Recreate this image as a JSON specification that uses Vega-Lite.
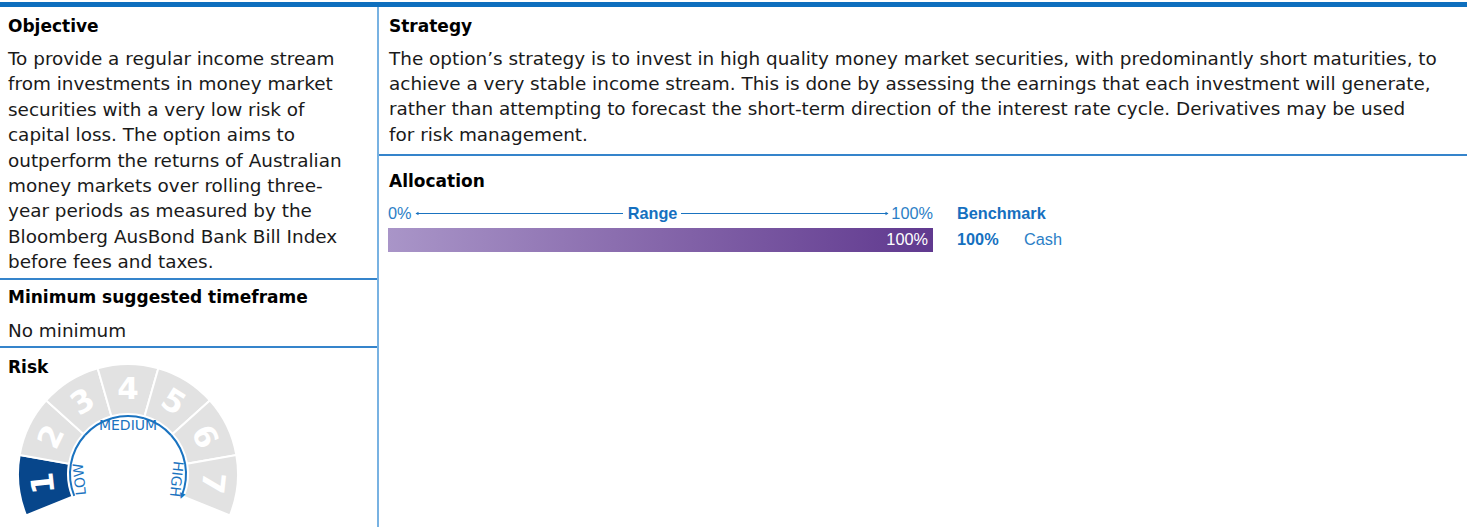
{
  "$schema": "https://vega.github.io/schema/vega-lite/v6.json",
  "padding": {"top": 2, "left": 0, "right": 0, "bottom": 0},
  "background": "#ffffff",
  "config": {"view": {"stroke": null}, "concat": {"spacing": 0}},
  "datasets": {
    "panelText": [
      {"panel": "Objective", "line": 0, "text": "Objective"},
      {"panel": "Objective", "line": 1, "text": "To provide a regular income stream"},
      {"panel": "Objective", "line": 2, "text": "from investments in money market"},
      {"panel": "Objective", "line": 3, "text": "securities with a very low risk of"},
      {"panel": "Objective", "line": 4, "text": "capital loss. The option aims to"},
      {"panel": "Objective", "line": 5, "text": "outperform the returns of Australian"},
      {"panel": "Objective", "line": 6, "text": "money markets over rolling three-"},
      {"panel": "Objective", "line": 7, "text": "year periods as measured by the"},
      {"panel": "Objective", "line": 8, "text": "Bloomberg AusBond Bank Bill Index"},
      {"panel": "Objective", "line": 9, "text": "before fees and taxes."},
      {"panel": "Timeframe", "line": 0, "text": "Minimum suggested timeframe"},
      {"panel": "Timeframe", "line": 1, "text": "No minimum"},
      {"panel": "Risk", "line": 0, "text": "Risk"},
      {"panel": "Strategy", "line": 0, "text": "Strategy"},
      {"panel": "Strategy", "line": 1, "text": "The option’s strategy is to invest in high quality money market securities, with predominantly short maturities, to"},
      {"panel": "Strategy", "line": 2, "text": "achieve a very stable income stream. This is done by assessing the earnings that each investment will generate,"},
      {"panel": "Strategy", "line": 3, "text": "rather than attempting to forecast the short-term direction of the interest rate cycle. Derivatives may be used"},
      {"panel": "Strategy", "line": 4, "text": "for risk management."},
      {"panel": "Allocation", "line": 0, "text": "Allocation"}
    ],
    "riskLevels": [
      {"level": 1}, {"level": 2}, {"level": 3}, {"level": 4}, {"level": 5}, {"level": 6}, {"level": 7}
    ],
    "riskBands": [
      {"band": "LOW", "level": 1},
      {"band": "MEDIUM", "level": 4},
      {"band": "HIGH", "level": 7}
    ],
    "allocation": [
      {"asset": "Cash", "min": 0, "max": 1, "benchmark": 1}
    ]
  },
  "spacing": 0,
  "bounds": "full",
  "vconcat": [
    {
      "width": 1467, "height": 5,
      "view": {"fill": "#0e6fbe", "stroke": null},
      "data": {"values": [{}]},
      "mark": {"type": "point", "opacity": 0, "size": 0},
      "encoding": {}
    },
    {
      "spacing": 0,
      "bounds": "full",
      "hconcat": [
        {
          "spacing": 0,
          "bounds": "flush",
          "vconcat": [
            {
              "width": 377, "height": 271,
              "data": {"name": "panelText"},
              "transform": [{"filter": "datum.panel === 'Objective'"}],
              "encoding": {
                "y": {"field": "line", "type": "quantitative", "scale": {"domain": [0, 10], "range": [32.6, 286.6], "padding": 0}, "axis": null},
                "text": {"field": "text", "type": "nominal"}
              },
              "layer": [
                {"transform": [{"filter": "datum.line === 0"}], "mark": {"type": "text", "x": 8, "dy": -8, "align": "left", "baseline": "alphabetic", "font": "DejaVu Sans", "fontSize": 17, "fontWeight": "bold", "color": "#000000"}},
                {"transform": [{"filter": "datum.line > 0"}], "mark": {"type": "text", "x": 8, "align": "left", "baseline": "alphabetic", "font": "DejaVu Sans", "fontSize": 18.4, "color": "#1a1a1a"}}
              ]
            },
            {
              "width": 377, "height": 2,
              "view": {"fill": "#3584cb", "stroke": null},
              "data": {"values": [{}]},
              "mark": {"type": "point", "opacity": 0, "size": 0},
              "encoding": {}
            },
            {
              "width": 377, "height": 66,
              "data": {"name": "panelText"},
              "transform": [{"filter": "datum.panel === 'Timeframe'"}],
              "encoding": {
                "y": {"field": "line", "type": "quantitative", "scale": {"domain": [0, 10], "range": [31.3, 285.3], "padding": 0}, "axis": null},
                "text": {"field": "text", "type": "nominal"}
              },
              "layer": [
                {"transform": [{"filter": "datum.line === 0"}], "mark": {"type": "text", "x": 8, "dy": -8, "align": "left", "baseline": "alphabetic", "font": "DejaVu Sans", "fontSize": 17, "fontWeight": "bold", "color": "#000000"}},
                {"transform": [{"filter": "datum.line > 0"}], "mark": {"type": "text", "x": 8, "align": "left", "baseline": "alphabetic", "font": "DejaVu Sans", "fontSize": 18.4, "color": "#1a1a1a"}}
              ]
            },
            {
              "width": 377, "height": 2,
              "view": {"fill": "#3584cb", "stroke": null},
              "data": {"values": [{}]},
              "mark": {"type": "point", "opacity": 0, "size": 0},
              "encoding": {}
            },
            {
              "width": 377, "height": 179,
              "resolve": {"scale": {"theta": "independent"}},
              "layer": [
                {
                  "data": {"name": "panelText"},
                  "transform": [{"filter": "datum.panel === 'Risk'"}],
                  "mark": {"type": "text", "x": 8, "dy": -8, "align": "left", "baseline": "alphabetic", "font": "DejaVu Sans", "fontSize": 17, "fontWeight": "bold", "color": "#000000"},
                  "encoding": {
                    "y": {"field": "line", "type": "quantitative", "scale": {"domain": [0, 10], "range": [33, 287], "padding": 0}, "axis": null},
                    "text": {"field": "text", "type": "nominal"}
                  }
                },
                {
                  "data": {"name": "riskLevels"},
                  "mark": {"type": "arc", "x": 128, "y": 126, "radius": 110, "radius2": 60, "stroke": "#ffffff", "strokeWidth": 2},
                  "encoding": {
                    "theta": {"aggregate": "count", "type": "quantitative", "stack": "zero", "scale": {"domain": [0, 7], "range": [-1.9565, 1.9565]}},
                    "order": {"field": "level", "type": "quantitative"},
                    "detail": {"field": "level", "type": "quantitative"},
                    "color": {"condition": {"test": "datum.level === 1", "value": "#07468b"}, "value": "#e2e2e2"}
                  }
                },
                {
                  "data": {"name": "riskLevels"},
                  "mark": {"type": "arc", "x": 128, "y": 126, "radius": 59, "radius2": 57, "color": "#1a73c0"},
                  "encoding": {
                    "theta": {"aggregate": "count", "type": "quantitative", "stack": "zero", "scale": {"domain": [0, 7], "range": [-1.9565, 1.9565]}},
                    "order": {"field": "level", "type": "quantitative"},
                    "detail": {"field": "level", "type": "quantitative"}
                  }
                },
                {
                  "data": {"name": "riskLevels"},
                  "transform": [{"filter": "datum.level === 7"}],
                  "mark": {"type": "text", "x": 128, "y": 126, "radius": 58, "text": "▼", "fontSize": 10, "color": "#1a73c0", "align": "center", "baseline": "middle", "angle": 22},
                  "encoding": {
                    "theta": {"field": "level", "type": "quantitative", "stack": null, "scale": {"domain": [0, 7], "range": [-1.9565, 1.9565]}}
                  }
                },
                {
                  "data": {"name": "riskLevels"},
                  "mark": {"type": "text", "x": 128, "y": 126, "radius": 84, "font": "DejaVu Sans", "fontSize": 31, "fontWeight": "bold", "color": "#ffffff", "align": "center", "baseline": "middle"},
                  "encoding": {
                    "theta": {"field": "level", "type": "quantitative", "stack": null, "scale": {"domain": [0.5, 7.5], "range": [-1.9565, 1.9565]}},
                    "angle": {"field": "level", "type": "quantitative", "scale": {"domain": [0.5, 7.5], "range": [-112.1, 112.1]}},
                    "text": {"field": "level", "type": "quantitative"}
                  }
                },
                {
                  "data": {"name": "riskBands"},
                  "mark": {"type": "text", "x": 128, "y": 126, "radius": 48, "font": "DejaVu Sans", "fontSize": 14, "color": "#1a73c0", "align": "center", "baseline": "middle"},
                  "encoding": {
                    "theta": {"field": "level", "type": "quantitative", "stack": null, "scale": {"domain": [0.5, 7.5], "range": [-1.9565, 1.9565]}},
                    "angle": {"field": "level", "type": "quantitative", "scale": {"domain": [0.5, 7.5], "range": [-112.1, 112.1]}},
                    "text": {"field": "band", "type": "nominal"}
                  }
                }
              ]
            }
          ]
        },
        {
          "width": 2, "height": 520,
          "view": {"fill": "#78b2e2", "stroke": null},
          "data": {"values": [{}]},
          "mark": {"type": "point", "opacity": 0, "size": 0},
          "encoding": {}
        },
        {
          "spacing": 0,
          "bounds": "flush",
          "vconcat": [
            {
              "width": 1088, "height": 147,
              "data": {"name": "panelText"},
              "transform": [{"filter": "datum.panel === 'Strategy'"}],
              "encoding": {
                "y": {"field": "line", "type": "quantitative", "scale": {"domain": [0, 10], "range": [32.8, 284.8], "padding": 0}, "axis": null},
                "text": {"field": "text", "type": "nominal"}
              },
              "layer": [
                {"transform": [{"filter": "datum.line === 0"}], "mark": {"type": "text", "x": 10, "dy": -8, "align": "left", "baseline": "alphabetic", "font": "DejaVu Sans", "fontSize": 17, "fontWeight": "bold", "color": "#000000"}},
                {"transform": [{"filter": "datum.line > 0"}], "mark": {"type": "text", "x": 10, "align": "left", "baseline": "alphabetic", "font": "DejaVu Sans", "fontSize": 18.4, "color": "#1a1a1a"}}
              ]
            },
            {
              "width": 1088, "height": 2,
              "view": {"fill": "#3584cb", "stroke": null},
              "data": {"values": [{}]},
              "mark": {"type": "point", "opacity": 0, "size": 0},
              "encoding": {}
            },
            {
              "width": 1088, "height": 371,
              "layer": [
                {
                  "data": {"name": "panelText"},
                  "transform": [{"filter": "datum.panel === 'Allocation'"}],
                  "mark": {"type": "text", "x": 10, "align": "left", "baseline": "alphabetic", "font": "DejaVu Sans", "fontSize": 17, "fontWeight": "bold", "color": "#000000"},
                  "encoding": {
                    "y": {"field": "line", "type": "quantitative", "scale": {"domain": [0, 3], "range": [31, 110.5], "padding": 0}, "axis": null},
                    "text": {"field": "text", "type": "nominal"}
                  }
                },
                {
                  "data": {"name": "allocation"},
                  "mark": {"type": "rule", "color": "#1a73c0", "strokeWidth": 1.2, "xOffset": 28, "x2Offset": -310},
                  "encoding": {
                    "x": {"field": "min", "type": "quantitative", "scale": {"domain": [0, 1], "range": [9, 554], "padding": 0}, "axis": null},
                    "x2": {"field": "max"},
                    "y": {"datum": 1, "type": "quantitative", "axis": null}
                  }
                },
                {
                  "data": {"name": "allocation"},
                  "mark": {"type": "rule", "color": "#1a73c0", "strokeWidth": 1.2, "xOffset": 293, "x2Offset": -45},
                  "encoding": {
                    "x": {"field": "min", "type": "quantitative", "axis": null},
                    "x2": {"field": "max"},
                    "y": {"datum": 1, "type": "quantitative", "axis": null}
                  }
                },
                {
                  "data": {"name": "allocation"},
                  "mark": {"type": "point", "shape": "triangle-left", "filled": true, "size": 12, "opacity": 1, "color": "#1a73c0", "xOffset": 29},
                  "encoding": {
                    "x": {"field": "min", "type": "quantitative", "axis": null},
                    "y": {"datum": 1, "type": "quantitative", "axis": null}
                  }
                },
                {
                  "data": {"name": "allocation"},
                  "mark": {"type": "point", "shape": "triangle-right", "filled": true, "size": 12, "opacity": 1, "color": "#1a73c0", "xOffset": -46},
                  "encoding": {
                    "x": {"field": "max", "type": "quantitative", "axis": null},
                    "y": {"datum": 1, "type": "quantitative", "axis": null}
                  }
                },
                {
                  "data": {"name": "allocation"},
                  "mark": {"type": "text", "align": "left", "baseline": "middle", "font": "Liberation Sans", "fontSize": 16.3, "color": "#2b7ec6"},
                  "encoding": {
                    "x": {"field": "min", "type": "quantitative", "axis": null},
                    "y": {"datum": 1, "type": "quantitative", "axis": null},
                    "text": {"field": "min", "type": "quantitative", "format": ".0%"}
                  }
                },
                {
                  "data": {"name": "allocation"},
                  "mark": {"type": "text", "align": "right", "baseline": "middle", "font": "Liberation Sans", "fontSize": 16.3, "color": "#2b7ec6"},
                  "encoding": {
                    "x": {"field": "max", "type": "quantitative", "axis": null},
                    "y": {"datum": 1, "type": "quantitative", "axis": null},
                    "text": {"field": "max", "type": "quantitative", "format": ".0%"}
                  }
                },
                {
                  "data": {"name": "allocation"},
                  "mark": {"type": "text", "align": "center", "baseline": "middle", "dx": 264.5, "font": "Liberation Sans", "fontSize": 16.3, "fontWeight": "bold", "color": "#1570bf", "text": "Range"},
                  "encoding": {
                    "x": {"field": "min", "type": "quantitative", "axis": null},
                    "y": {"datum": 1, "type": "quantitative", "axis": null}
                  }
                },
                {
                  "data": {"name": "allocation"},
                  "mark": {"type": "text", "align": "left", "baseline": "middle", "dx": 24, "font": "Liberation Sans", "fontSize": 16.3, "fontWeight": "bold", "color": "#1570bf", "text": "Benchmark"},
                  "encoding": {
                    "x": {"field": "max", "type": "quantitative", "axis": null},
                    "y": {"datum": 1, "type": "quantitative", "axis": null}
                  }
                },
                {
                  "data": {"name": "allocation"},
                  "mark": {"type": "bar", "orient": "horizontal", "height": 24, "color": {"gradient": "linear", "x1": 0, "y1": 0, "x2": 1, "y2": 0, "stops": [{"offset": 0, "color": "#a995c8"}, {"offset": 0.5, "color": "#8566aa"}, {"offset": 1, "color": "#60398f"}]}},
                  "encoding": {
                    "x": {"field": "benchmark", "type": "quantitative", "axis": null},
                    "y": {"datum": 2, "type": "quantitative", "axis": null}
                  }
                },
                {
                  "data": {"name": "allocation"},
                  "mark": {"type": "text", "align": "right", "baseline": "middle", "dx": -5, "font": "Liberation Sans", "fontSize": 16.3, "color": "#ffffff"},
                  "encoding": {
                    "x": {"field": "benchmark", "type": "quantitative", "axis": null},
                    "y": {"datum": 2, "type": "quantitative", "axis": null},
                    "text": {"field": "benchmark", "type": "quantitative", "format": ".0%"}
                  }
                },
                {
                  "data": {"name": "allocation"},
                  "mark": {"type": "text", "align": "left", "baseline": "middle", "dx": 24, "font": "Liberation Sans", "fontSize": 16.3, "fontWeight": "bold", "color": "#1570bf"},
                  "encoding": {
                    "x": {"field": "max", "type": "quantitative", "axis": null},
                    "y": {"datum": 2, "type": "quantitative", "axis": null},
                    "text": {"field": "benchmark", "type": "quantitative", "format": ".0%"}
                  }
                },
                {
                  "data": {"name": "allocation"},
                  "mark": {"type": "text", "align": "left", "baseline": "middle", "dx": 91, "font": "Liberation Sans", "fontSize": 16.3, "color": "#2b7ec6"},
                  "encoding": {
                    "x": {"field": "max", "type": "quantitative", "axis": null},
                    "y": {"datum": 2, "type": "quantitative", "axis": null},
                    "text": {"field": "asset", "type": "nominal"}
                  }
                }
              ]
            }
          ]
        }
      ]
    }
  ]
}
